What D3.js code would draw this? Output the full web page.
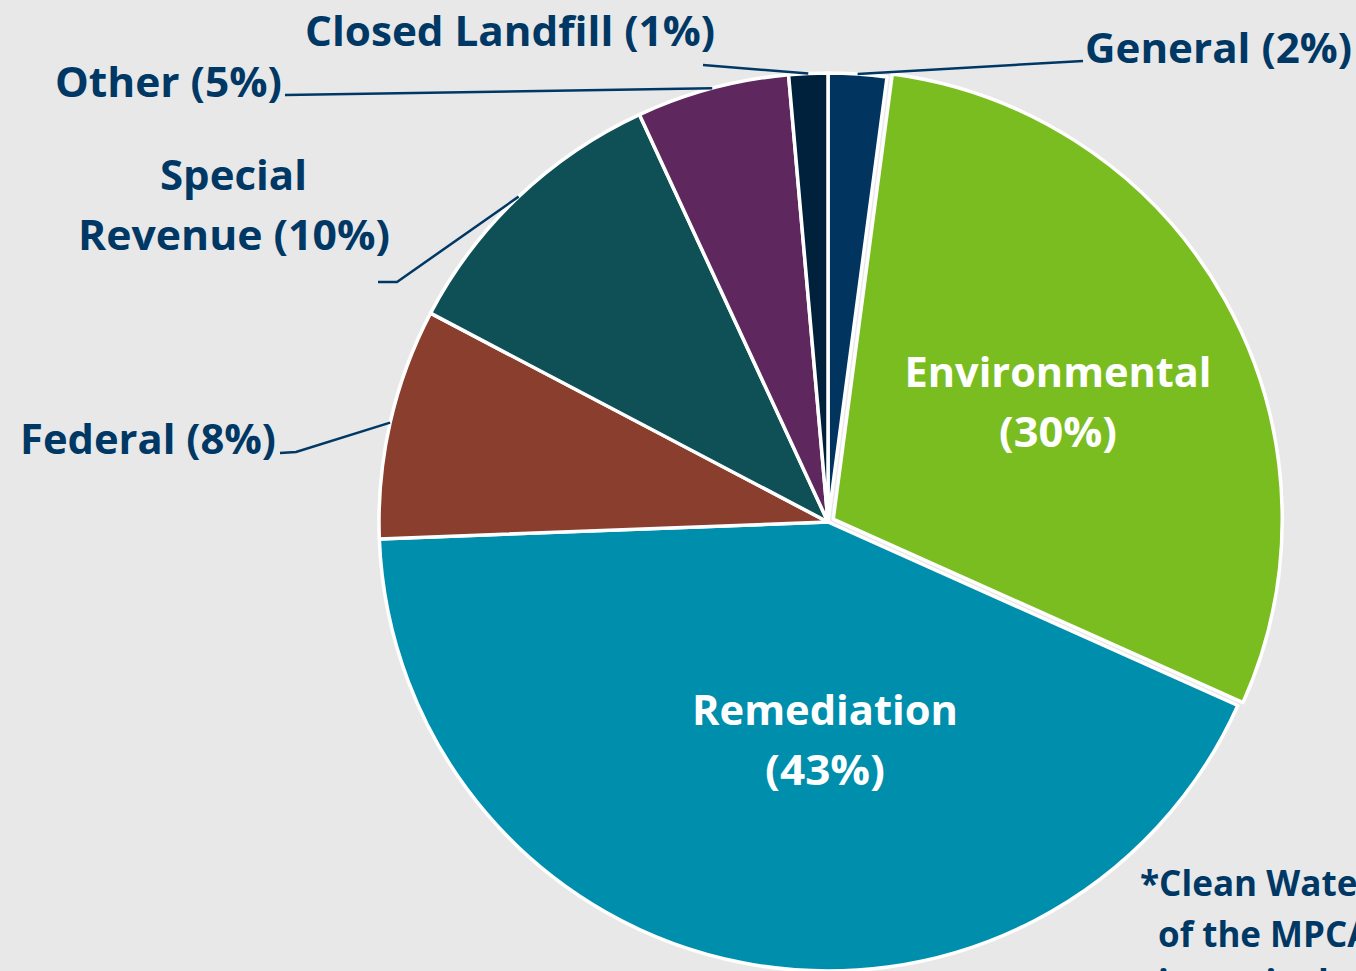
<!DOCTYPE html>
<html>
<head>
<meta charset="utf-8">
<script src="https://cdn.jsdelivr.net/npm/d3@7"></script>
<style>
  html, body { margin: 0; padding: 0; background: #e8e8e8; overflow: hidden; }
  text { font-family: 'Open Sans', 'Noto Sans', sans-serif; font-weight: bold; }
</style>
</head>
<body>
<div id="chart"></div>
<script>
// Data (share of budget, %)
var categories = ['General', 'Environmental', 'Remediation', 'Federal', 'Special Revenue', 'Other', 'Closed Landfill'];
var shares = [2.1, 29.6, 42.7, 8.3, 10.4, 5.5, 1.4];
var pctLabels = ['2%', '30%', '43%', '8%', '10%', '5%', '1%'];
var colors = ['#01355f', '#79bd21', '#008ead', '#8a3e2d', '#0e5055', '#5e285e', '#00213c'];

var width = 1356;
var height = 971;
var cx = 828;
var cy = 522;
var radius = 449;
var textColor = '#003865';

var svg = d3.select('#chart')
    .append('svg')
    .attr('width', width)
    .attr('height', height)

svg.append('rect')
    .attr('width', width)
    .attr('height', height)
    .attr('fill', '#e8e8e8')

var data = categories.map(function(c, i) {
    return { name: c, value: shares[i], pct: pctLabels[i], color: colors[i] };
});

var pie = d3.pie()
    .sort(null)
    .value(d => d.value)

var arc = d3.arc()
    .innerRadius(0)
    .outerRadius(radius)

var arcs = pie(data);

var g = svg.append('g')
    .attr('transform', 'translate(' + cx + ',' + cy + ')')

// slices, Environmental pulled out a little
g.selectAll('.slice')
    .data(arcs)
    .enter()
    .append('path')
    .attr('class', 'slice')
    .attr('d', arc)
    .attr('fill', d => d.data.color)
    .attr('stroke', '#ffffff')
    .attr('stroke-width', 3.5)
    .attr('stroke-linejoin', 'round')
    .attr('transform', function(d) {
        if (d.data.name !== 'Environmental') return null;
        var a = (d.startAngle + d.endAngle) / 2;
        return 'translate(' + (Math.sin(a) * 6) + ',' + (-Math.cos(a) * 6) + ')';
    })

// point on the rim at the middle of a slice
function rimPoint(d) {
    var a = (d.startAngle + d.endAngle) / 2;
    return [Math.sin(a) * radius, -Math.cos(a) * radius];
}

// outside labels: text lines + leader start (page coords)
var outside = {
    'General':        { lines: [['General (' + pctLabels[0] + ')', 1085, 63, 267]], leader: [[1083, 61]] },
    'Closed Landfill':{ lines: [['Closed Landfill (' + pctLabels[6] + ')', 305, 46, 410]], leader: [[703, 65]] },
    'Other':          { lines: [['Other (' + pctLabels[5] + ')', 55, 97, 227]], leader: [[285, 95]] },
    'Special Revenue':{ lines: [['Special', 160, 190, 147], ['Revenue (' + pctLabels[4] + ')', 78, 250, 312]], leader: [[378, 282], [397, 282]] },
    'Federal':        { lines: [['Federal (' + pctLabels[3] + ')', 20, 454, 256]], leader: [[280, 453], [296, 452]] }
};

var line = d3.line();

arcs.forEach(function(d) {
    var o = outside[d.data.name];
    if (!o) return;
    var p = rimPoint(d);
    var pts = o.leader.map(q => [q[0], q[1]]).concat([[p[0] + cx, p[1] + cy]]);
    svg.append('path')
        .attr('d', line(pts))
        .attr('fill', 'none')
        .attr('stroke', textColor)
        .attr('stroke-width', 2.5)
    o.lines.forEach(function(l) {
        svg.append('text')
            .attr('x', l[1])
            .attr('y', l[2])
            .attr('textLength', l[3])
            .attr('lengthAdjust', 'spacingAndGlyphs')
            .attr('font-size', 42)
            .attr('fill', textColor)
            .text(l[0])
    });
});

// inside labels
var inside = {
    'Environmental': [1058, 387, 307, 118],
    'Remediation': [825, 725, 266, 120]
};

arcs.forEach(function(d) {
    var o = inside[d.data.name];
    if (!o) return;
    svg.append('text')
        .attr('x', o[0] - o[2] / 2)
        .attr('y', o[1])
        .attr('textLength', o[2])
        .attr('lengthAdjust', 'spacingAndGlyphs')
        .attr('font-size', 42)
        .attr('fill', '#ffffff')
        .text(d.data.name)
    svg.append('text')
        .attr('x', o[0] - o[3] / 2)
        .attr('y', o[1] + 60)
        .attr('textLength', o[3])
        .attr('lengthAdjust', 'spacingAndGlyphs')
        .attr('font-size', 42)
        .attr('fill', '#ffffff')
        .text('(' + d.data.pct + ')')
});

// footnote, runs off the right edge like the source
var note = [['*Clean Water Fund', 1140, 896, 330], ['of the MPCA\u2019s budget', 1158, 947, 370], ['is not included', 1158, 995, 260]];
note.forEach(function(l) {
    svg.append('text')
        .attr('x', l[1])
        .attr('y', l[2])
        .attr('textLength', l[3])
        .attr('lengthAdjust', 'spacingAndGlyphs')
        .attr('font-size', 36)
        .attr('fill', textColor)
        .text(l[0])
});
</script>
</body>
</html>
